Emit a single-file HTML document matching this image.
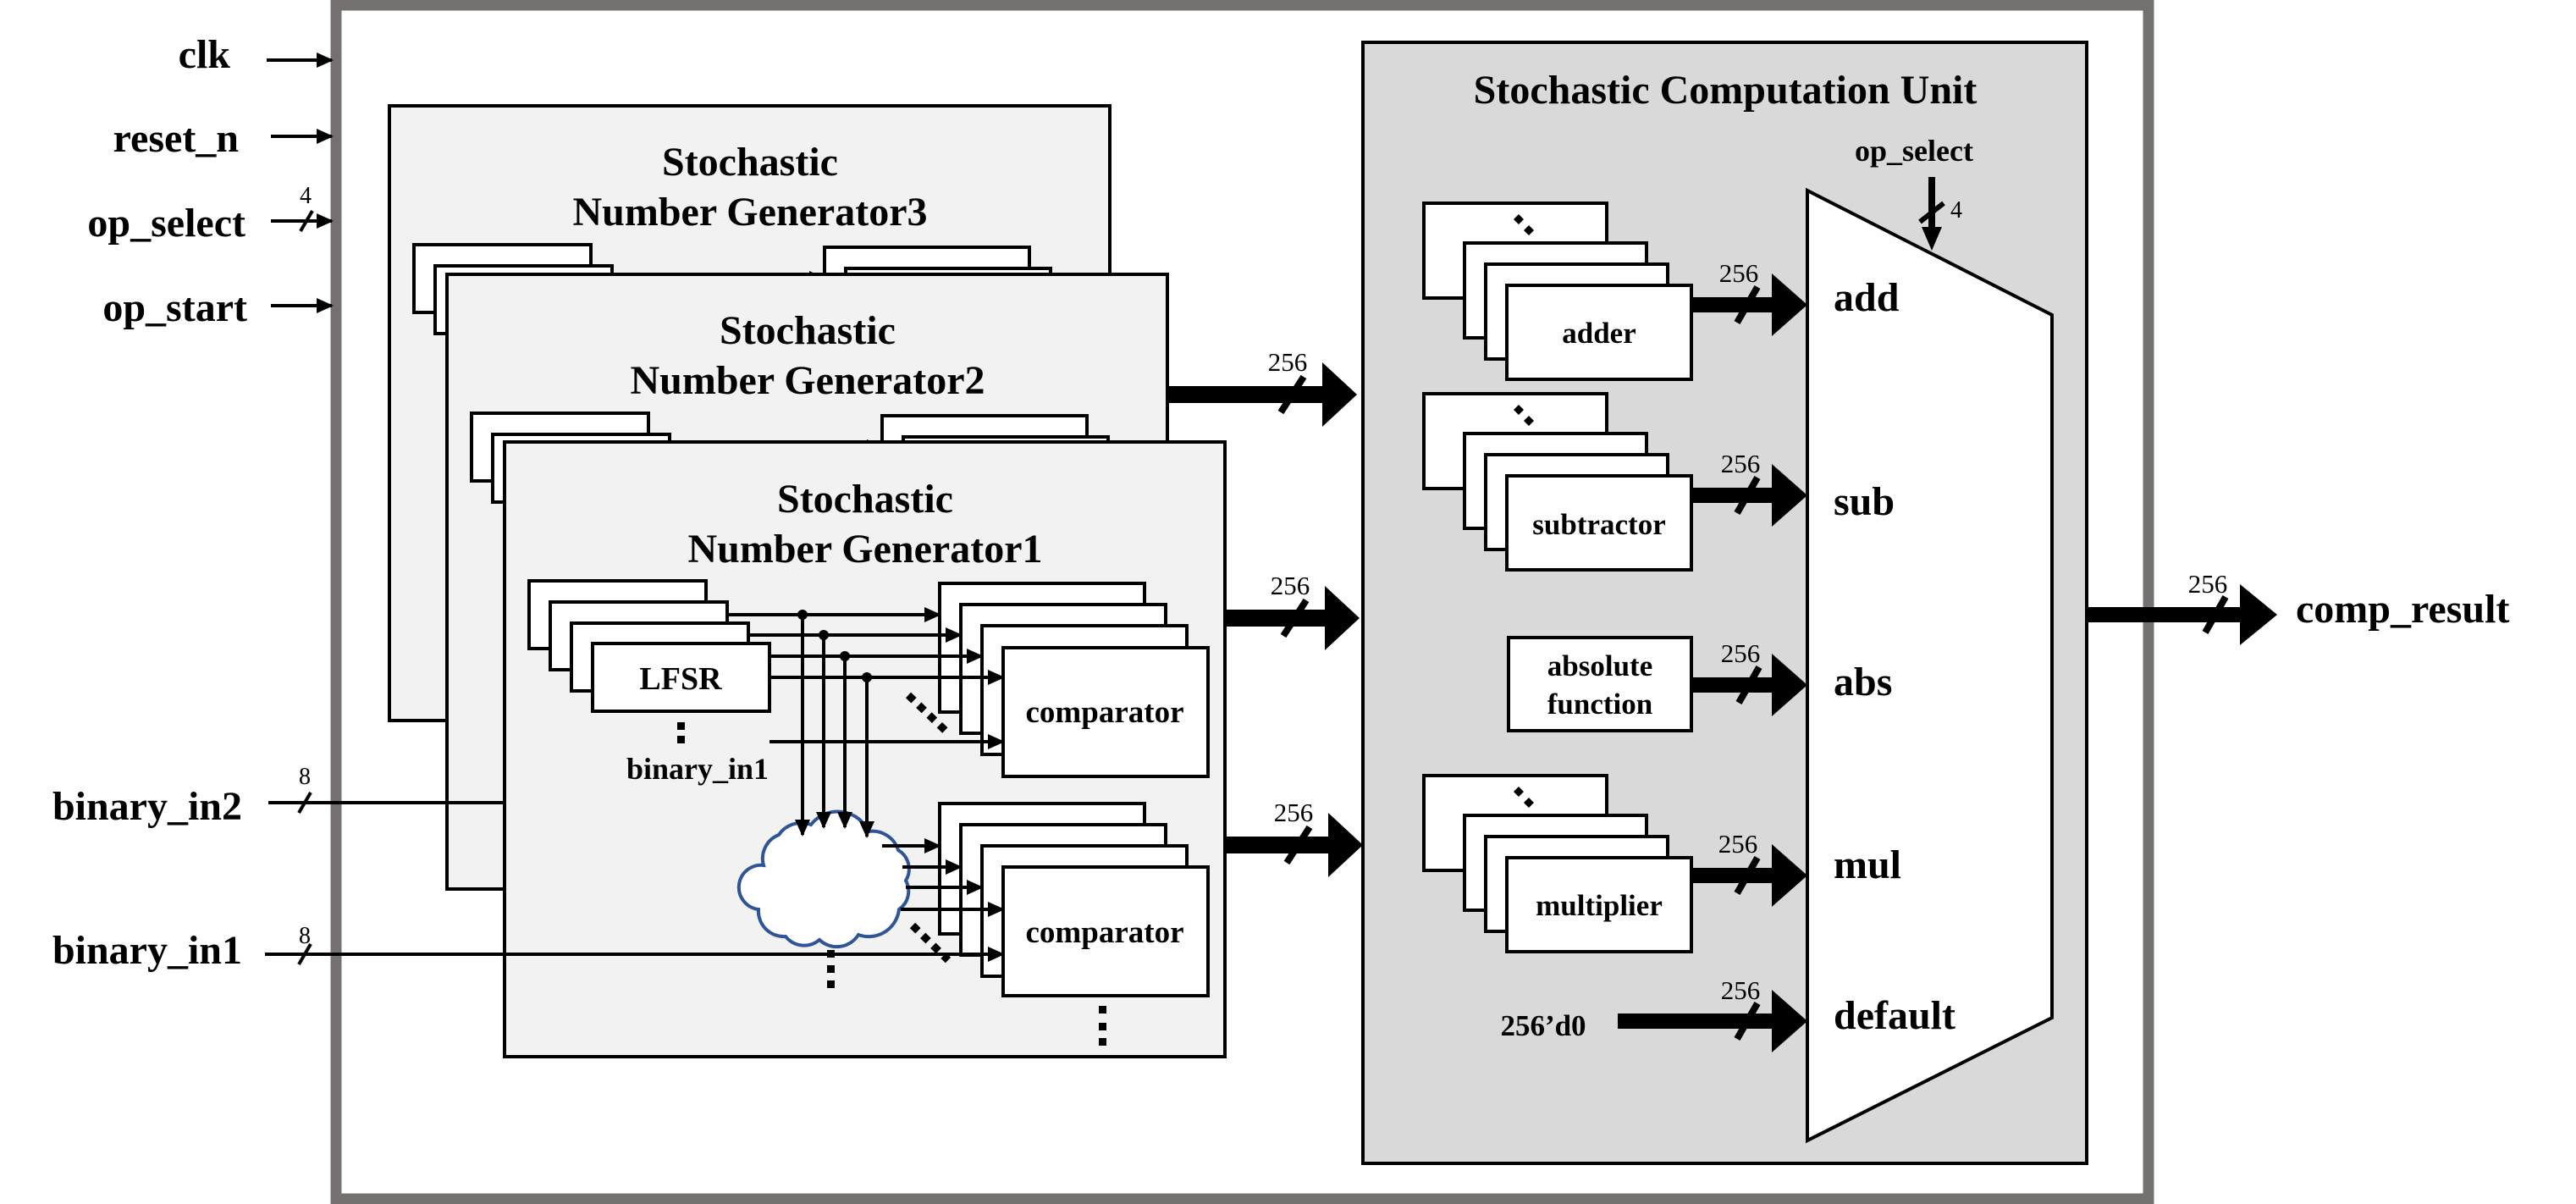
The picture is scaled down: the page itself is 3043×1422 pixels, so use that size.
<!DOCTYPE html>
<html><head><meta charset="utf-8"><style>
html,body{margin:0;padding:0;background:#fff}
svg{display:block}
svg text{font-family:"Liberation Serif","Times New Roman","DejaVu Serif",serif;font-weight:bold;fill:#000}
svg text.n{font-weight:normal}
</style></head><body>
<svg width="3043" height="1422" viewBox="0 0 3043 1422" xmlns="http://www.w3.org/2000/svg" font-family="Liberation Serif, serif">
<defs>
<marker id="ah" markerUnits="userSpaceOnUse" markerWidth="20" markerHeight="18" refX="18" refY="9" orient="auto">
<path d="M0,0 L20,9 L0,18 Z" fill="#000"/>
</marker>
<g id="sng">
  <rect x="0" y="0" width="851" height="726" fill="#f2f2f2" stroke="#000" stroke-width="4"/>
  <rect x="29" y="164" width="209" height="80" fill="#fff" stroke="#000" stroke-width="4"/>
  <rect x="54" y="189" width="209" height="80" fill="#fff" stroke="#000" stroke-width="4"/>
  <rect x="79" y="214" width="209" height="80" fill="#fff" stroke="#000" stroke-width="4"/>
  <rect x="104" y="238" width="209" height="80" fill="#fff" stroke="#000" stroke-width="4"/>
  <text x="208" y="292" font-size="38" text-anchor="middle">LFSR</text>
  <rect x="204" y="331" width="9" height="9"/><rect x="204" y="347" width="9" height="9"/>
  <text x="228" y="398" font-size="36" text-anchor="middle">binary_in1</text>
  <rect x="514" y="167" width="242" height="152" fill="#fff" stroke="#000" stroke-width="4"/>
  <rect x="539" y="192" width="242" height="152" fill="#fff" stroke="#000" stroke-width="4"/>
  <rect x="564" y="217" width="242" height="152" fill="#fff" stroke="#000" stroke-width="4"/>
  <rect x="589" y="243" width="242" height="152" fill="#fff" stroke="#000" stroke-width="4"/>
  <text x="709" y="331" font-size="37" text-anchor="middle">comparator</text>
  <rect x="514" y="427" width="242" height="154" fill="#fff" stroke="#000" stroke-width="4"/>
  <rect x="539" y="452" width="242" height="154" fill="#fff" stroke="#000" stroke-width="4"/>
  <rect x="564" y="477" width="242" height="154" fill="#fff" stroke="#000" stroke-width="4"/>
  <rect x="589" y="502" width="242" height="152" fill="#fff" stroke="#000" stroke-width="4"/>
  <text x="709" y="591" font-size="37" text-anchor="middle">comparator</text>
  <g stroke="#000" stroke-width="4" fill="none">
    <line x1="263" y1="204" x2="514" y2="204" marker-end="url(#ah)"/>
    <line x1="288" y1="228" x2="539" y2="228" marker-end="url(#ah)"/>
    <line x1="313" y1="253" x2="564" y2="253" marker-end="url(#ah)"/>
    <line x1="313" y1="278" x2="589" y2="278" marker-end="url(#ah)"/>
    <line x1="313" y1="354" x2="589" y2="354" marker-end="url(#ah)"/>
  </g>
  <path d="M306,500 A30,30 0 0 1 324,464 A32,32 0 0 1 362,452 A40,40 0 0 1 430,460 A32,32 0 0 1 465,482 A26,26 0 0 1 474,518 A26,26 0 0 1 466,552 A36,36 0 0 1 418,582 A30,30 0 0 1 372,588 A28,28 0 0 1 332,584 A30,30 0 0 1 300,552 A26,26 0 0 1 306,500 Z" fill="#fff" stroke="#2f5597" stroke-width="4"/>
  <g stroke="#000" stroke-width="4" fill="none">
    <line x1="352" y1="204" x2="352" y2="464" marker-end="url(#ah)"/>
    <line x1="377" y1="228" x2="377" y2="455" marker-end="url(#ah)"/>
    <line x1="402" y1="253" x2="402" y2="455" marker-end="url(#ah)"/>
    <line x1="428" y1="278" x2="428" y2="466" marker-end="url(#ah)"/>
    <line x1="446" y1="477" x2="514" y2="477" marker-end="url(#ah)"/>
    <line x1="470" y1="502" x2="539" y2="502" marker-end="url(#ah)"/>
    <line x1="474" y1="526" x2="564" y2="526" marker-end="url(#ah)"/>
    <line x1="468" y1="552" x2="589" y2="552" marker-end="url(#ah)"/>
  </g>
  <circle cx="352" cy="204" r="6"/><circle cx="377" cy="228" r="6"/><circle cx="402" cy="253" r="6"/><circle cx="428" cy="278" r="6"/>
  <line x1="477" y1="299" x2="524" y2="344" stroke="#000" stroke-width="9" stroke-dasharray="9 8"/>
  <line x1="482" y1="571" x2="524" y2="612" stroke="#000" stroke-width="9" stroke-dasharray="9 8"/>
  <rect x="381" y="600" width="9" height="9"/><rect x="381" y="618" width="9" height="9"/><rect x="381" y="636" width="9" height="9"/>
  <rect x="702" y="666" width="9" height="9"/><rect x="702" y="686" width="9" height="9"/><rect x="702" y="704" width="9" height="9"/>
</g>
<g id="stack">
  <rect x="0" y="0" width="216" height="112" fill="#fff" stroke="#000" stroke-width="4"/>
  <path d="M106,19 l6,-6 l6,6 l-6,6 Z M118,32 l6,-6 l6,6 l-6,6 Z"/>
  <rect x="48" y="47" width="215" height="112" fill="#fff" stroke="#000" stroke-width="4"/>
  <rect x="73" y="72" width="215" height="112" fill="#fff" stroke="#000" stroke-width="4"/>
  <rect x="98" y="97" width="218" height="111" fill="#fff" stroke="#000" stroke-width="4"/>
</g>
</defs>

<rect x="397" y="6" width="2141" height="1410" fill="#fff" stroke="#767171" stroke-width="13"/>

<g font-size="48" text-anchor="end">
<text x="272" y="80">clk</text>
<text x="282" y="179">reset_n</text>
<text x="290" y="279">op_select</text>
<text x="292" y="379">op_start</text>
<text x="286" y="968">binary_in2</text>
<text x="286" y="1138">binary_in1</text>
</g>
<g stroke="#000" stroke-width="4">
<line x1="315" y1="71" x2="392" y2="71" marker-end="url(#ah)"/>
<line x1="320" y1="161" x2="392" y2="161" marker-end="url(#ah)"/>
<line x1="320" y1="261" x2="392" y2="261" marker-end="url(#ah)"/>
<line x1="320" y1="361" x2="392" y2="361" marker-end="url(#ah)"/>
<line x1="355" y1="273" x2="369" y2="249"/>
</g>
<text class="n" x="361" y="240" font-size="28" text-anchor="middle">4</text>

<use href="#sng" x="460" y="125"/>
<use href="#sng" x="528" y="324"/>
<use href="#sng" x="596" y="522"/>
<g font-size="48" text-anchor="middle">
<text x="886" y="207">Stochastic</text><text x="886" y="266">Number Generator3</text>
<text x="954" y="406">Stochastic</text><text x="954" y="465">Number Generator2</text>
<text x="1022" y="605">Stochastic</text><text x="1022" y="664">Number Generator1</text>
</g>

<g stroke="#000" stroke-width="4">
<line x1="317" y1="948" x2="596" y2="948"/>
<line x1="353" y1="960" x2="367" y2="936"/>
<line x1="313" y1="1127" x2="1185" y2="1127" marker-end="url(#ah)"/>
<line x1="353" y1="1139" x2="367" y2="1115"/>
</g>
<text class="n" x="360" y="926" font-size="28" text-anchor="middle">8</text>
<text class="n" x="360" y="1114" font-size="28" text-anchor="middle">8</text>

<rect x="1610" y="50" width="855" height="1324" fill="#d9d9d9" stroke="#000" stroke-width="4"/>
<text x="2038" y="122" font-size="48" text-anchor="middle">Stochastic Computation Unit</text>
<text x="2261" y="190" font-size="36" text-anchor="middle">op_select</text>
<line x1="2282" y1="209" x2="2282" y2="270" stroke="#000" stroke-width="8"/>
<path d="M2270,268 L2294,268 L2282,296 Z"/>
<line x1="2268" y1="262" x2="2296" y2="240" stroke="#000" stroke-width="6"/>
<text class="n" x="2311" y="257" font-size="28" text-anchor="middle">4</text>
<polygon points="2135,225 2424,372 2424,1202 2135,1347" fill="#fff" stroke="#000" stroke-width="4"/>
<g font-size="48">
<text x="2166" y="367">add</text>
<text x="2166" y="608">sub</text>
<text x="2166" y="821">abs</text>
<text x="2166" y="1037">mul</text>
<text x="2166" y="1215">default</text>
</g>
<use href="#stack" x="1682" y="240"/>
<use href="#stack" x="1682" y="465"/>
<use href="#stack" x="1682" y="916"/>
<rect x="1782" y="753" width="216" height="110" fill="#fff" stroke="#000" stroke-width="4"/>
<g font-size="35" text-anchor="middle">
<text x="1889" y="405">adder</text>
<text x="1889" y="631">subtractor</text>
<text x="1890" y="798">absolute</text>
<text x="1890" y="843">function</text>
<text x="1889" y="1081">multiplier</text>
<text x="1823" y="1223">256’d0</text>
</g>

<g>
<rect x="1380" y="456" width="184" height="20"/><path d="M1562,428 L1603,466 L1562,504 Z"/>
<rect x="1447" y="720" width="120" height="20"/><path d="M1565,692 L1606,730 L1565,768 Z"/>
<rect x="1447" y="988" width="124" height="20"/><path d="M1569,960 L1610,998 L1569,1036 Z"/>
<rect x="1998" y="351" width="97" height="18"/><path d="M2093,323 L2135,360 L2093,397 Z"/>
<rect x="1998" y="576" width="97" height="18"/><path d="M2093,548 L2135,585 L2093,622 Z"/>
<rect x="2000" y="800" width="95" height="18"/><path d="M2093,772 L2135,809 L2093,846 Z"/>
<rect x="1998" y="1025" width="97" height="18"/><path d="M2093,997 L2135,1034 L2093,1071 Z"/>
<rect x="1911" y="1197" width="184" height="18"/><path d="M2093,1169 L2135,1206 L2093,1243 Z"/>
<rect x="2465" y="717" width="183" height="18"/><path d="M2646,690 L2690,726 L2646,762 Z"/>
</g>
<g stroke="#000" stroke-width="8">
<line x1="1513" y1="487" x2="1540" y2="445"/>
<line x1="1516" y1="751" x2="1543" y2="709"/>
<line x1="1520" y1="1019" x2="1547" y2="977"/>
<line x1="2052" y1="381" x2="2076" y2="339"/>
<line x1="2052" y1="606" x2="2076" y2="564"/>
<line x1="2054" y1="830" x2="2078" y2="788"/>
<line x1="2052" y1="1055" x2="2076" y2="1013"/>
<line x1="2052" y1="1227" x2="2076" y2="1185"/>
<line x1="2605" y1="747" x2="2629" y2="705"/>
</g>
<g font-size="31" text-anchor="middle">
<text class="n" x="1521" y="438">256</text>
<text class="n" x="1524" y="702">256</text>
<text class="n" x="1528" y="970">256</text>
<text class="n" x="2054" y="333">256</text>
<text class="n" x="2056" y="558">256</text>
<text class="n" x="2056" y="782">256</text>
<text class="n" x="2053" y="1007">256</text>
<text class="n" x="2056" y="1180">256</text>
<text class="n" x="2608" y="700">256</text>
</g>
<text x="2712" y="735" font-size="48">comp_result</text>
</svg>
</body></html>
